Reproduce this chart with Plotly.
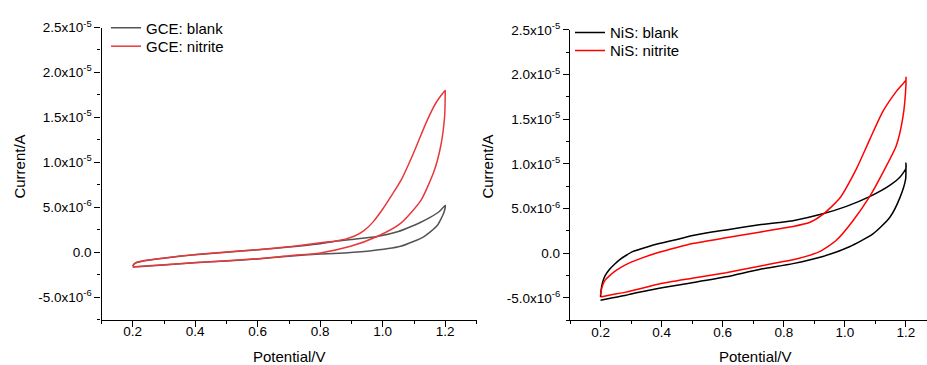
import numpy as np
import plotly.graph_objects as go

W, H = 927, 365
UA = 1e-6  # currents below are listed in microamperes

# ---- GCE electrode ----
gce_blank_x = [0.20, 0.205, 0.215, 0.23, 0.25, 0.30, 0.40, 0.50, 0.60, 0.70, 0.80, 0.843, 0.90, 0.982, 1.05, 1.089, 1.12, 1.153, 1.18, 1.20,
               1.196, 1.175, 1.132, 1.057, 0.95, 0.843, 0.80, 0.70, 0.60, 0.50, 0.40, 0.30, 0.25, 0.21, 0.20]
gce_blank_y = [-1.55, -1.30, -1.12, -1.00, -0.89, -0.67, -0.28, 0.00, 0.26, 0.58, 0.95, 1.20, 1.40, 1.74, 2.30, 2.83, 3.30, 3.90, 4.50, 5.20,
               4.45, 3.00, 1.74, 0.65, 0.10, -0.15, -0.20, -0.45, -0.75, -0.97, -1.18, -1.42, -1.54, -1.63, -1.64]

gce_nitrite_x = [0.20, 0.205, 0.215, 0.23, 0.25, 0.30, 0.40, 0.50, 0.60, 0.70, 0.80, 0.85, 0.88, 0.91, 0.94, 0.97, 1.00, 1.03, 1.06, 1.10, 1.14, 1.17, 1.20,
                 1.20, 1.198, 1.186, 1.164, 1.121, 1.057, 0.982, 0.897, 0.80, 0.70, 0.60, 0.50, 0.40, 0.30, 0.25, 0.21, 0.20]
gce_nitrite_y = [-1.55, -1.30, -1.10, -0.98, -0.87, -0.65, -0.26, 0.02, 0.28, 0.60, 1.05, 1.25, 1.45, 1.80, 2.40, 3.40, 4.80, 6.40, 8.10, 11.15, 14.50, 16.60, 18.00,
                 17.70, 15.10, 11.90, 9.00, 5.70, 3.20, 1.74, 0.65, -0.08, -0.40, -0.73, -0.95, -1.16, -1.40, -1.52, -1.62, -1.63]

# ---- NiS electrode ----
nis_blank_x = [0.20, 0.2015, 0.2066, 0.215, 0.229, 0.245, 0.262, 0.283, 0.305, 0.35, 0.392, 0.45, 0.502, 0.55, 0.611, 0.72, 0.786, 0.83, 0.928, 1.005, 1.081, 1.147, 1.18, 1.20,
               1.20, 1.199, 1.18, 1.147, 1.092, 1.015, 0.928, 0.83, 0.72, 0.611, 0.50, 0.392, 0.30, 0.283, 0.24, 0.20]
nis_blank_y = [-4.90, -4.20, -3.26, -2.50, -1.81, -1.25, -0.73, -0.25, 0.18, 0.68, 1.09, 1.55, 1.99, 2.30, 2.61, 3.18, 3.45, 3.65, 4.42, 5.25, 6.34, 7.60, 8.50, 9.50,
               10.10, 8.30, 6.20, 4.00, 2.17, 0.73, -0.36, -1.16, -1.81, -2.64, -3.30, -3.91, -4.55, -4.71, -4.98, -5.25]

nis_nitrite_x = [0.20, 0.2015, 0.2066, 0.215, 0.229, 0.25, 0.283, 0.33, 0.392, 0.45, 0.502, 0.611, 0.72, 0.786, 0.83, 0.884, 0.928, 0.983, 1.037, 1.081, 1.125, 1.168, 1.20,
                 1.20, 1.20, 1.19, 1.168, 1.125, 1.081, 1.026, 0.972, 0.917, 0.83, 0.786, 0.72, 0.611, 0.50, 0.392, 0.283, 0.24, 0.20]
nis_nitrite_y = [-4.71, -4.30, -3.62, -3.00, -2.53, -1.95, -1.27, -0.60, 0.11, 0.65, 1.09, 1.74, 2.36, 2.75, 3.00, 3.44, 4.35, 6.16, 9.40, 12.70, 15.90, 18.10, 19.40,
                 19.75, 18.80, 15.20, 12.00, 9.06, 6.34, 3.62, 1.45, 0.18, -0.73, -1.01, -1.45, -2.17, -2.80, -3.44, -4.35, -4.62, -4.89]

# ---- axis ticks ----
x_ticks = [0.2, 0.4, 0.6, 0.8, 1.0, 1.2]
x_tick_text = ["0.2", "0.4", "0.6", "0.8", "1.0", "1.2"]
x_minor = [0.1, 0.3, 0.5, 0.7, 0.9, 1.1, 1.3]
y_ticks = [-5e-6, 0.0, 5e-6, 1e-5, 1.5e-5, 2e-5, 2.5e-5]
y_tick_text = ["-5.0x10<sup>-6</sup>", "0.0", "5.0x10<sup>-6</sup>", "1.0x10<sup>-5</sup>",
               "1.5x10<sup>-5</sup>", "2.0x10<sup>-5</sup>", "2.5x10<sup>-5</sup>"]
y_minor = [-7.5e-6, -2.5e-6, 2.5e-6, 7.5e-6, 1.25e-5, 1.75e-5, 2.25e-5]

FONT = "Arial, Liberation Sans, sans-serif"

fig = go.Figure()

def add(x, y, name, color, xa, ya, legend):
    fig.add_trace(go.Scatter(
        x=x, y=np.array(y) * UA, mode="lines", name=name,
        line=dict(color=color, width=1.5, shape="spline", smoothing=0.6),
        xaxis=xa, yaxis=ya, legend=legend,
    ))

add(gce_blank_x, gce_blank_y, "GCE: blank", "#545454", "x", "y", "legend")
add(gce_nitrite_x, gce_nitrite_y, "GCE: nitrite", "#e8383b", "x", "y", "legend2")
add(nis_blank_x, nis_blank_y, "NiS: blank", "#000000", "x2", "y2", "legend3")
add(nis_nitrite_x, nis_nitrite_y, "NiS: nitrite", "#ff0000", "x2", "y2", "legend4")

def xaxis(domain, rng, anchor):
    return dict(domain=domain, range=rng, anchor=anchor, showline=True, linecolor="black", linewidth=1.3,
                ticks="outside", ticklen=6, tickwidth=1.3, tickcolor="black",
                tickmode="array", tickvals=x_ticks, ticktext=x_tick_text, ticklabelstandoff=-7,
                minor=dict(tickmode="array", tickvals=x_minor, ticks="outside", ticklen=3, tickwidth=1.3, tickcolor="black"),
                showgrid=False, zeroline=False, tickfont=dict(size=13.5, color="black", family=FONT))

def yaxis(domain, anchor):
    return dict(domain=domain, range=[-7.5e-6, 2.5e-5], anchor=anchor, showline=True, linecolor="black", linewidth=1.3,
                ticks="outside", ticklen=6, tickwidth=1.3, tickcolor="black",
                tickmode="array", tickvals=y_ticks, ticktext=y_tick_text,
                minor=dict(tickmode="array", tickvals=y_minor, ticks="outside", ticklen=3, tickwidth=1.3, tickcolor="black"),
                showgrid=False, zeroline=False, tickfont=dict(size=13.5, color="black", family=FONT))

def legend(px, py_top):
    return dict(x=px / W, y=(H - py_top) / H, xanchor="left", yanchor="top", bgcolor="rgba(0,0,0,0)",
                font=dict(size=15, family=FONT, color="black"))

fig.update_layout(
    width=W, height=H, margin=dict(l=0, r=0, t=0, b=0),
    paper_bgcolor="white", plot_bgcolor="white",
    font=dict(family=FONT, color="black"),
    xaxis=xaxis([101.5 / W, 476.5 / W], [0.1, 1.3], "y"),
    yaxis=yaxis([(H - 318.3) / H, (H - 18) / H], "x"),
    xaxis2=xaxis([570 / W, 1.0], [0.1, 1.269], "y2"),
    yaxis2=yaxis([(H - 319) / H, (H - 20.5) / H], "x2"),
    legend=legend(106, 1.5),
    legend2=legend(106, 20.5),
    legend3=legend(570, 6.5),
    legend4=legend(570, 25),
    showlegend=True,
)

titles = [
    ("Current/A", 20, 161, -90),
    ("Potential/V", 289, 356, 0),
    ("Current/A", 488, 161, -90),
    ("Potential/V", 755, 356, 0),
]
for text, px, py, ang in titles:
    fig.add_annotation(text=text, x=px / W, y=(H - py) / H, xref="paper", yref="paper",
                       showarrow=False, textangle=ang, xanchor="center", yanchor="middle",
                       font=dict(size=15, family=FONT, color="black"))

fig.write_html("out.html")
